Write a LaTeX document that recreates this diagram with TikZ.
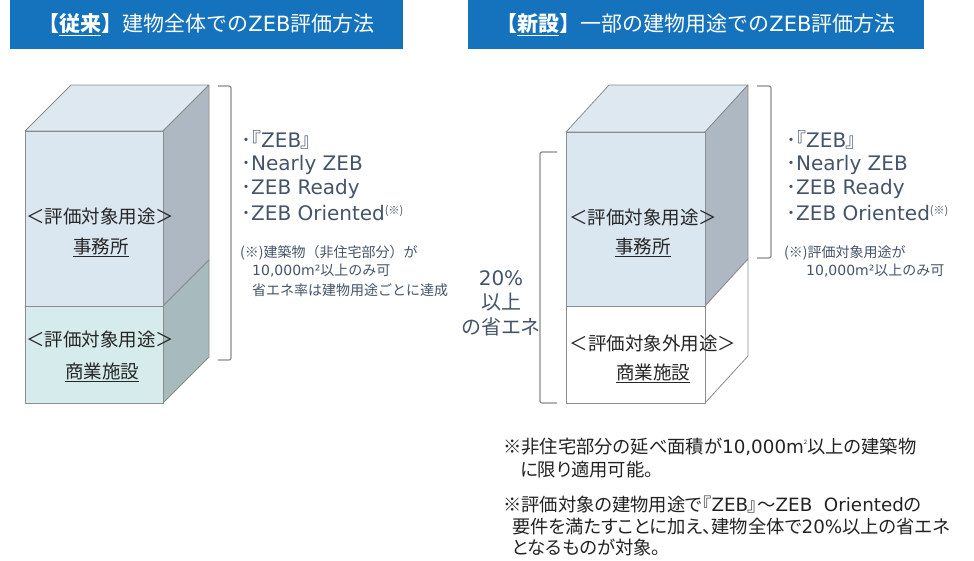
\documentclass[tikz,border=0pt]{standalone}
\usepackage{fontspec}
\setmainfont[RawFeature=+palt]{Noto Sans CJK JP}
\newfontfamily\jpw{Noto Sans CJK JP}
\newfontfamily\lat{DejaVu Sans}
\definecolor{hdrblue}{HTML}{1473BC}
\definecolor{slate}{HTML}{44546A}
\definecolor{topc}{HTML}{DDE8F1}
\definecolor{frontA}{HTML}{DAE6F0}
\definecolor{sideA}{HTML}{ADB8C2}
\definecolor{frontB}{HTML}{D5EBEC}
\definecolor{sideB}{HTML}{A7BABD}
\definecolor{edge}{HTML}{8C8C8C}
\definecolor{brk}{HTML}{8A8A8A}
\definecolor{notec}{HTML}{222222}
\tikzset{
  hdrbox/.style={fill=hdrblue, text=white, minimum width=#1, minimum height=49pt, inner sep=0pt, font=\jpw\fontsize{21}{21}\selectfont},
  face/.style={draw=edge, line width=0.8pt, line join=round},
  brace/.style={draw=brk, line width=1.2pt, rounded corners=2pt},
  bullet/.style={anchor=west, inner sep=0pt, text=slate, font=\fontsize{20}{20}\selectfont},
  smallnote/.style={anchor=west, inner sep=0pt, text=slate, font=\jpw\fontsize{14}{14}\selectfont},
  boxlabel/.style={inner sep=0pt, text=black!85, font=\jpw\fontsize{18.5}{18.5}\selectfont},
  pct/.style={inner sep=0pt, text=slate, font=\fontsize{20}{20}\selectfont},
  bnote/.style={anchor=west, inner sep=0pt, text=notec, font=\fontsize{18.3}{18.3}\selectfont}
}
\newcommand{\ul}[1]{\underline{#1}}
\newcommand{\supnote}{\raisebox{0.55ex}{\fontsize{11}{11}\selectfont (※)}}
\begin{document}
\begin{tikzpicture}[x=1pt,y=-1pt]
\useasboundingbox (0,0) rectangle (974,560);

% headers
\node[hdrbox=393pt] (h1) at (206.5,24.5) {{\bfseries【\ul{従来}】}建物全体での{\lat ZEB}評価方法};
\node[hdrbox=456pt] (h2) at (696,24.5) {{\bfseries【\ul{新設}】}一部の建物用途での{\lat ZEB}評価方法};

% left building
\draw[face, fill=topc] (25,131) -- (71,85) -- (209,85) -- (163,131) -- cycle;
\draw[face, fill=sideA] (163,131) -- (209,85) -- (209,260) -- (163,306) -- cycle;
\draw[face, fill=sideB] (163,306) -- (209,260) -- (209,357) -- (163,403) -- cycle;
\draw[face, fill=frontA] (25,131) rectangle (163,306);
\draw[face, fill=frontB] (25,306) rectangle (163,403);

\node[boxlabel] (l1) at (100,216) {＜評価対象用途＞};
\node[boxlabel] (l2) at (101,247) {\ul{事務所}};
\node[boxlabel] (l3) at (100,339) {＜評価対象用途＞};
\node[boxlabel] (l4) at (102,372) {\ul{商業施設}};

% left bracket
\draw[brace] (218,86) -- (231,86) -- (231,360) -- (218,360);

\node[bullet] (a1) at (241,140) {･『{\lat ZEB}』};
\node[bullet] (a2) at (241,165) {･{\lat Nearly ZEB}};
\node[bullet] (a3) at (241,189) {･{\lat ZEB Ready}};
\node[bullet] (a4) at (241,213) {･{\lat ZEB Oriented}\supnote};
\node[smallnote] (an1) at (240,253) {(※)建築物（非住宅部分）が};
\node[smallnote] (an2) at (252,271) {{\lat 10,000m²}以上のみ可};
\node[smallnote] (an3) at (252,290) {省エネ率は建物用途ごとに達成};

% right building
\draw[face, fill=topc] (566,132) -- (609,85) -- (748,85) -- (705,132) -- cycle;
\draw[face, fill=sideA] (705,132) -- (748,85) -- (748,259) -- (705,306) -- cycle;
\draw[face, fill=white] (705,306) -- (748,259) -- (748,356) -- (705,403) -- cycle;
\draw[face, fill=frontA] (566,132) rectangle (705,306);
\draw[face, fill=white] (566,306) rectangle (705,403);

\node[boxlabel] (r1) at (643,217) {＜評価対象用途＞};
\node[boxlabel] (r2) at (643,247) {\ul{事務所}};
\node[boxlabel] (r3) at (653,343) {＜評価対象外用途＞};
\node[boxlabel] (r4) at (653,373) {\ul{商業施設}};

% 20% bracket
\draw[brace] (557,152) -- (540,152) -- (540,403) -- (557,403);
\node[pct] (p1) at (501,278) {\lat 20\%};
\node[pct] (p2) at (501,302) {以上};
\node[pct] (p3) at (501,327) {の省エネ};

% right bracket
\draw[brace] (757,86) -- (771,86) -- (771,258) -- (757,258);
\node[bullet] (b1) at (786,140) {･『{\lat ZEB}』};
\node[bullet] (b2) at (786,165) {･{\lat Nearly ZEB}};
\node[bullet] (b3) at (786,189) {･{\lat ZEB Ready}};
\node[bullet] (b4) at (786,213) {･{\lat ZEB Oriented}\supnote};
\node[smallnote] (bn1) at (784,253) {(※)評価対象用途が};
\node[smallnote] (bn2) at (806,271) {{\lat 10,000m²}以上のみ可};

% bottom notes
\node[bnote] (n1) at (503,447) {※非住宅部分の延べ面積が{\lat 10,000m}\raisebox{0.9ex}{\fontsize{6}{6}\selectfont 2}以上の建築物};
\node[bnote] (n2) at (520,470) {に限り適用可能。};
\node[bnote] (n3) at (503,505) {※評価対象の建物用途で『{\lat ZEB}』～{\lat ZEB\ \ Oriented}の};
\node[bnote] (n4) at (512,527) {要件を満たすことに加え、建物全体で{\lat 20\%}以上の省エネ};
\node[bnote] (n5) at (512,548) {となるものが対象。};
\end{tikzpicture}
\end{document}
